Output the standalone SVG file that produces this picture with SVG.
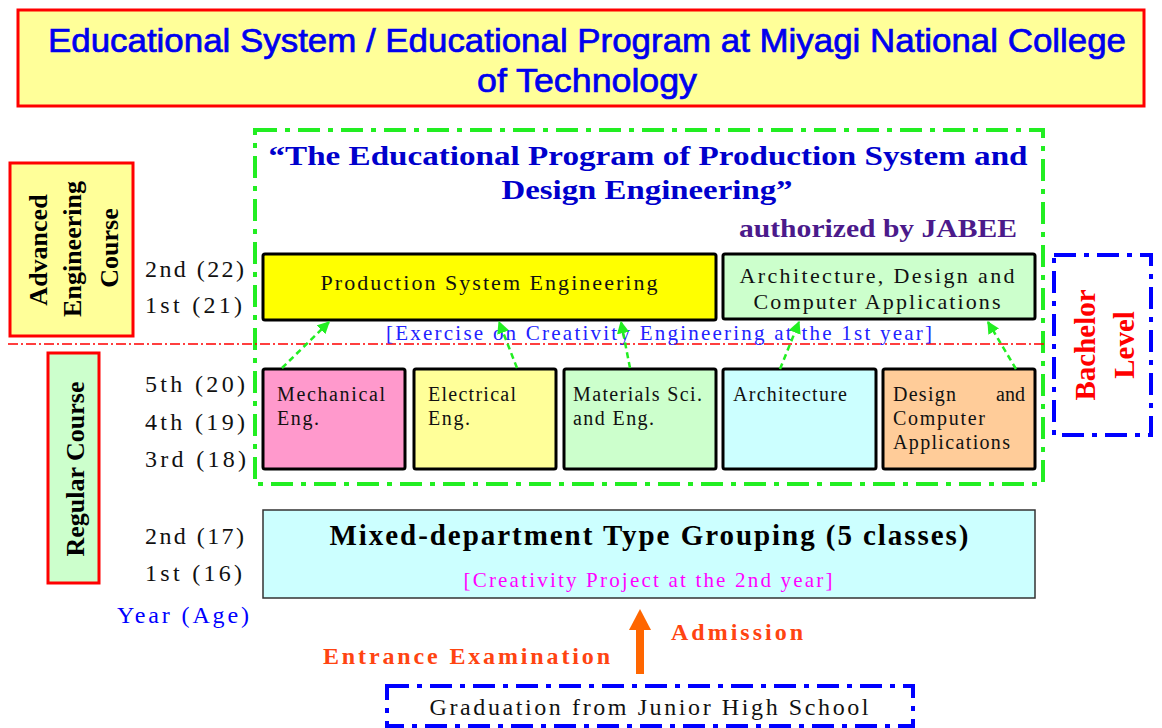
<svg xmlns="http://www.w3.org/2000/svg" width="1162" height="728" viewBox="0 0 1162 728">
<defs>
<style>
.serif{font-family:"Liberation Serif","Times New Roman",serif}
.sans{font-family:"Liberation Sans Narrow","Liberation Sans",Arial,sans-serif}
.box{stroke:#000;stroke-width:3}
.lbl{font-size:24px;fill:#111}
.dept{font-size:20px;fill:#111}
.green{fill:none;stroke:#22EE22;stroke-width:4;stroke-dasharray:22 8 5 8}
.blue{fill:none;stroke:#0000FF;stroke-width:4;stroke-dasharray:22 8 5 8}
.garrow{stroke:#22EE22;stroke-width:2.5;stroke-dasharray:6 4;fill:none;marker-end:url(#gh)}
.vert{font-weight:bold;font-size:26px;fill:#000}
.ttl{font-size:34px;fill:#0000EE;stroke:#0000EE;stroke-width:0.7}
</style>
<marker id="gh" viewBox="0 0 10 10" refX="9" refY="5" markerWidth="5" markerHeight="5" orient="auto" markerUnits="strokeWidth">
<path d="M0,0 L10,5 L0,10 z" fill="#22EE22"/>
</marker>
</defs>
<rect width="1162" height="728" fill="#fff"/>

<g id="title">
<rect x="18" y="10" width="1126" height="96" fill="#FFFF99" stroke="#FF0000" stroke-width="3"/>
<text class="sans ttl" x="587" y="52" text-anchor="middle" textLength="1078" lengthAdjust="spacingAndGlyphs">Educational System / Educational Program at Miyagi National College</text>
<text class="sans ttl" x="587" y="92" text-anchor="middle" textLength="220" lengthAdjust="spacingAndGlyphs">of Technology</text>
</g>

<g id="program">
<rect class="green" x="255" y="130" width="788" height="354"/>
<text class="serif" x="648" y="165" text-anchor="middle" font-size="28" font-weight="bold" fill="#0000CC" textLength="759" lengthAdjust="spacingAndGlyphs">“The Educational Program of Production System and</text>
<text class="serif" x="647" y="199" text-anchor="middle" font-size="28" font-weight="bold" fill="#0000CC" textLength="291" lengthAdjust="spacingAndGlyphs">Design Engineering”</text>
<text class="serif" x="878" y="237" text-anchor="middle" font-size="25" font-weight="bold" fill="#4B1A8B" textLength="278" lengthAdjust="spacingAndGlyphs">authorized by JABEE</text>
</g>

<g id="advanced-course">
<rect x="10" y="163" width="123" height="173" fill="#FFFF99" stroke="#FF0000" stroke-width="3"/>
<text class="serif vert" transform="translate(38,250) rotate(-90)" text-anchor="middle" dominant-baseline="central">Advanced</text>
<text class="serif vert" transform="translate(72,249) rotate(-90)" text-anchor="middle" dominant-baseline="central">Engineering</text>
<text class="serif vert" transform="translate(109,248) rotate(-90)" text-anchor="middle" dominant-baseline="central">Course</text>
</g>

<g id="regular-course">
<rect x="48" y="353" width="51" height="230" fill="#CCFFCC" stroke="#FF0000" stroke-width="3"/>
<text class="serif vert" transform="translate(75,469) rotate(-90)" text-anchor="middle" dominant-baseline="central">Regular Course</text>
</g>

<g id="year-labels" class="serif lbl">
<text x="145" y="277" textLength="99" lengthAdjust="spacing">2nd (22)</text>
<text x="145" y="313" textLength="97" lengthAdjust="spacing">1st  (21)</text>
<text x="145" y="392" textLength="100" lengthAdjust="spacing">5th  (20)</text>
<text x="145" y="430" textLength="100" lengthAdjust="spacing">4th  (19)</text>
<text x="145" y="467" textLength="101" lengthAdjust="spacing">3rd  (18)</text>
<text x="145" y="544" textLength="99" lengthAdjust="spacing">2nd (17)</text>
<text x="145" y="581" textLength="97" lengthAdjust="spacing">1st  (16)</text>
<text x="117" y="623" fill="#0000FF" textLength="132" lengthAdjust="spacing">Year (Age)</text>
</g>

<g id="red-line">
<line x1="8" y1="344" x2="1045" y2="344" stroke="#FF0000" stroke-width="1.5" stroke-dasharray="10 3 2 3"/>
</g>

<g id="bachelor-level">
<rect class="blue" x="1054" y="255" width="97" height="180"/>
<text class="serif" transform="translate(1085,345) rotate(-90)" text-anchor="middle" dominant-baseline="central" font-size="29" font-weight="bold" fill="#FF0000">Bachelor</text>
<text class="serif" transform="translate(1124,345) rotate(-90)" text-anchor="middle" dominant-baseline="central" font-size="29" font-weight="bold" fill="#FF0000">Level</text>
</g>

<g id="pse">
<rect class="box" x="263" y="254" width="453" height="66" rx="2" fill="#FFFF00"/>
<text class="serif" x="489" y="290" text-anchor="middle" font-size="22" fill="#111" textLength="337" lengthAdjust="spacing">Production System Engineering</text>
</g>

<g id="adca">
<rect class="box" x="723" y="254" width="312" height="65" rx="2" fill="#CCFFCC"/>
<text class="serif" x="877" y="283" text-anchor="middle" font-size="22" fill="#111" textLength="275" lengthAdjust="spacing">Architecture, Design  and</text>
<text class="serif" x="877" y="309" text-anchor="middle" font-size="22" fill="#111" textLength="247" lengthAdjust="spacing">Computer Applications</text>
</g>

<g id="exercise-note">
<text class="serif" x="659" y="340" text-anchor="middle" font-size="21" fill="#2222FF" textLength="546" lengthAdjust="spacing">[Exercise on Creativity Engineering at the 1st year]</text>
</g>

<g id="mechanical">
<rect class="box" x="263" y="369" width="142" height="100" rx="2" fill="#FF99CC"/>
<text class="serif dept" x="277" y="401" textLength="108" lengthAdjust="spacing">Mechanical</text>
<text class="serif dept" x="277" y="425" textLength="42" lengthAdjust="spacing">Eng.</text>
</g>

<g id="electrical">
<rect class="box" x="414" y="369" width="142" height="100" rx="2" fill="#FFFF99"/>
<text class="serif dept" x="428" y="401" textLength="88" lengthAdjust="spacing">Electrical</text>
<text class="serif dept" x="428" y="425" textLength="42" lengthAdjust="spacing">Eng.</text>
</g>

<g id="materials">
<rect class="box" x="564" y="369" width="152" height="100" rx="2" fill="#CCFFCC"/>
<text class="serif dept" x="573" y="401" textLength="129" lengthAdjust="spacing">Materials Sci.</text>
<text class="serif dept" x="573" y="425" textLength="81" lengthAdjust="spacing">and Eng.</text>
</g>

<g id="architecture">
<rect class="box" x="723" y="369" width="153" height="100" rx="2" fill="#CCFFFF"/>
<text class="serif dept" x="733" y="401" textLength="114" lengthAdjust="spacing">Architecture</text>
</g>

<g id="design">
<rect class="box" x="883" y="369" width="152" height="100" rx="2" fill="#FFCC99"/>
<text class="serif dept" x="893" y="401" textLength="63" lengthAdjust="spacing">Design</text>
<text class="serif dept" x="1025" y="401" text-anchor="end">and</text>
<text class="serif dept" x="893" y="425" textLength="92" lengthAdjust="spacing">Computer</text>
<text class="serif dept" x="893" y="449" textLength="117" lengthAdjust="spacing">Applications</text>
</g>

<g id="connectors">
<line class="garrow" x1="282" y1="368" x2="329" y2="322"/>
<line class="garrow" x1="517" y1="368" x2="499" y2="322"/>
<line class="garrow" x1="630" y1="368" x2="621" y2="322"/>
<line class="garrow" x1="780" y1="369" x2="799" y2="322"/>
<line class="garrow" x1="1016" y1="369" x2="988" y2="322"/>
<line x1="640" y1="674" x2="640" y2="628" stroke="#FF6600" stroke-width="8"/>
<path d="M629,630 L640,609 L651,630 z" fill="#FF6600"/>
</g>

<g id="mixed">
<rect x="263" y="510" width="772" height="88" fill="#CCFFFF" stroke="#333" stroke-width="1.5"/>
<text class="serif" x="649" y="545" text-anchor="middle" font-size="29" font-weight="bold" fill="#000" textLength="639" lengthAdjust="spacing">Mixed-department Type Grouping (5 classes)</text>
<text class="serif" x="648" y="587" text-anchor="middle" font-size="21" fill="#FF00FF" textLength="369" lengthAdjust="spacing">[Creativity Project at the 2nd year]</text>
</g>

<g id="admission-labels">
<text class="serif" x="671" y="640" font-size="24" font-weight="bold" fill="#FF4411" textLength="132" lengthAdjust="spacing">Admission</text>
<text class="serif" x="323" y="664" font-size="24" font-weight="bold" fill="#FF4411" textLength="287" lengthAdjust="spacing">Entrance Examination</text>
</g>

<g id="graduation">
<rect class="blue" x="387" y="686" width="526" height="40"/>
<text class="serif" x="649" y="715" text-anchor="middle" font-size="24" fill="#111" textLength="439" lengthAdjust="spacing">Graduation from Junior High School</text>
</g>
</svg>
